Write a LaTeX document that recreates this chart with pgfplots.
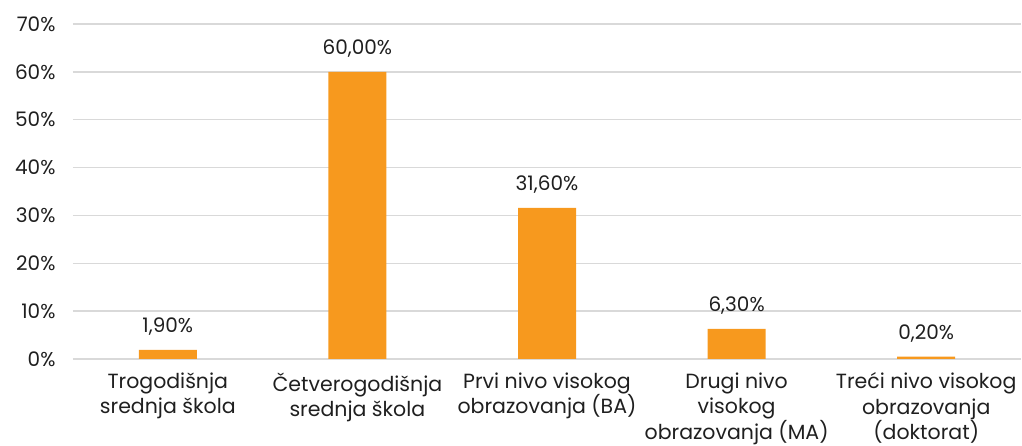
\documentclass[border=0pt]{standalone}
\usepackage{fontspec}
\setmainfont{Poppins}
\usepackage{pgfplots}
\pgfplotsset{compat=1.18}
\definecolor{barorange}{HTML}{F7991E}
\definecolor{gridgray}{HTML}{D9D9D9}
\definecolor{txt}{HTML}{1F1F1F}
\begin{document}
\begin{tikzpicture}[x=1pt,y=1pt]
\useasboundingbox (0,0) rectangle (1022,446);
\begin{axis}[
  at={(73pt,87pt)}, anchor=south west,
  scale only axis, width=948pt, height=335pt,
  xmin=-0.5, xmax=4.5, ymin=0, ymax=70,
  axis line style={draw=none},
  ytick={0,10,...,70},
  yticklabel={\pgfmathprintnumber{\tick}\%},
  /pgf/number format/assume math mode=true,
  ymajorgrids, grid style={gridgray, line width=1.4pt},
  major tick length=0pt,
  xtick={0,1,2,3,4},
  xticklabels={{Trogodišnja\\srednja škola},{Četverogodišnja\\srednja škola},{Prvi nivo visokog\\obrazovanja (BA)},{Drugi nivo\\visokog\\obrazovanja (MA)},{Treći nivo visokog\\obrazovanja\\(doktorat)}},
  xticklabel style={align=center, text=txt, font=\fontsize{20.5}{25.5}\selectfont, yshift=-10pt},
  yticklabel style={text=txt, font=\fontsize{20}{24}\selectfont, xshift=-14pt},
  ybar, bar width=58pt,
  nodes near coords,
  point meta=explicit symbolic,
  nodes near coords style={text=txt, font=\fontsize{20}{24}\selectfont, yshift=11pt},
  clip=false,
]
\addplot[fill=barorange, draw=none] coordinates {
  (0,1.9) [1,90\%]
  (1,60.0) [60,00\%]
  (2,31.6) [31,60\%]
  (3,6.3) [6,30\%]
  (4,0.5) [0,20\%]
};
\end{axis}
\end{tikzpicture}
\end{document}
